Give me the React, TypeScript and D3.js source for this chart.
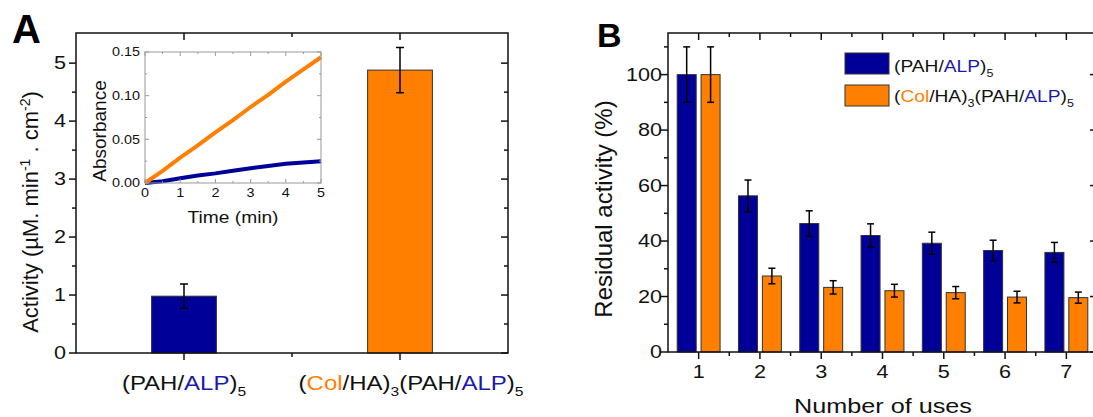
import React from 'react';
import * as d3 from 'd3';

const W = 1093;
const H = 417;
const SX = 1.2;
const FONT = '"Liberation Sans", Arial, Helvetica, sans-serif';
const BLUE = '#000099';
const ORANGE = '#ff8000';
const TXT_BLUE = '#1a1aaa';

// Panel A data
const activityCategories = [1, 2];
const activityValues = [0.98, 4.88];
const activityErrors = [0.21, 0.39];
const activityColors = [BLUE, ORANGE];
const activityTicks = [0, 1, 2, 3, 4, 5];
const activityMinor = [0.5, 1.5, 2.5, 3.5, 4.5];

// Inset data
const insetTime = [0, 0.5, 1, 1.5, 2, 2.5, 3, 3.5, 4, 4.5, 5];
const insetOrange = [0, 0.014, 0.029, 0.043, 0.058, 0.072, 0.087, 0.101, 0.116, 0.13, 0.144];
const insetBlue = [0, 0.002, 0.0055, 0.0085, 0.011, 0.014, 0.017, 0.0195, 0.022, 0.0235, 0.025];
const insetXTicks = [0, 1, 2, 3, 4, 5];
const insetYTicks = [0, 0.05, 0.1, 0.15];
const insetYLabels = ['0.00', '0.05', '0.10', '0.15'];

// Panel B data
const uses = [1, 2, 3, 4, 5, 6, 7];
const residualPAH = [100, 56.3, 46.3, 42, 39.2, 36.6, 35.9];
const residualPAHErr = [10, 5.7, 4.6, 4.2, 4, 3.7, 3.6];
const residualCol = [100, 27.4, 23.3, 22.1, 21.4, 19.8, 19.6];
const residualColErr = [10, 2.8, 2.4, 2.3, 2.2, 2.1, 2.0];
const residualTicks = [0, 20, 40, 60, 80, 100];
const residualMinor = [10, 30, 50, 70, 90, 110];

function HText(props: any) {
  const { x, y, anchor = 'start', size, fill = '#111', weight = 'normal', sx = SX, children, dy } = props;
  return (
    <text
      transform={`translate(${x},${y}) scale(${sx},1)`}
      textAnchor={anchor}
      fontSize={size}
      fontFamily={FONT}
      fill={fill}
      fontWeight={weight}
      dy={dy}
    >
      {children}
    </text>
  );
}

function PahAlp({ size }: { size: number }) {
  return (
    <>
      <tspan>(PAH/</tspan>
      <tspan fill={TXT_BLUE}>ALP</tspan>
      <tspan>)</tspan>
      <tspan dy={size * 0.3} fontSize={size * 0.65}>5</tspan>
    </>
  );
}

function ColHa({ size }: { size: number }) {
  return (
    <>
      <tspan>(</tspan>
      <tspan fill={ORANGE}>Col</tspan>
      <tspan>/HA)</tspan>
      <tspan dy={size * 0.3} fontSize={size * 0.65}>3</tspan>
      <tspan dy={-size * 0.3}>(PAH/</tspan>
      <tspan fill={TXT_BLUE}>ALP</tspan>
      <tspan>)</tspan>
      <tspan dy={size * 0.3} fontSize={size * 0.65}>5</tspan>
    </>
  );
}

export default function App() {
  // Panel A scales
  const xA = d3.scaleLinear().domain([0.5, 2.5]).range([76, 508]);
  const yA = d3.scaleLinear().domain([0, 5.52]).range([353, 33]);
  const barHalfA = 0.15;

  // Inset scales
  const xI = d3.scaleLinear().domain([0, 5]).range([145, 321]);
  const yI = d3.scaleLinear().domain([0, 0.15]).range([183, 52]);
  const lineI = d3
    .line<number>()
    .x((_, i) => xI(insetTime[i]))
    .y((d) => yI(d));

  // Panel B scales
  const xB = d3.scaleLinear().domain([0.5, 7.5]).range([668, 1097]);
  const yB = d3.scaleLinear().domain([0, 115]).range([352, 33]);
  const offB = 0.195;
  const halfB = 0.155;

  const MAJ = 7;
  const MIN = 4;
  const axisStroke = '#111';
  const aw = 1.5;

  const [a0, a1] = xA.range();
  const [ab, at] = yA.range();
  const [b0, b1] = xB.range();
  const [bb, bt] = yB.range();
  const [i0, i1] = xI.range();
  const [ib, it] = yI.range();

  const insetXMinor = d3.range(0.5, 5, 1);
  const insetYMinor = [0.025, 0.075, 0.125];

  return (
    <svg width={W} height={H} style={{ position: 'absolute', left: 0, top: 0, background: '#fff' }}>
      <rect x={0} y={0} width={W} height={H} fill="#fff" />

      {/* ---------- Panel A ---------- */}
      <text x={12} y={43} fontSize={40} fontWeight="bold" fontFamily={FONT} fill="#000">A</text>

      {/* bars */}
      {activityCategories.map((c, i) => (
        <rect
          key={'ab' + i}
          x={xA(c - barHalfA)}
          y={yA(activityValues[i])}
          width={xA(c + barHalfA) - xA(c - barHalfA)}
          height={yA(0) - yA(activityValues[i])}
          fill={activityColors[i]}
          stroke="#333"
          strokeWidth={1}
        />
      ))}
      {/* error bars */}
      {activityCategories.map((c, i) => {
        const xc = xA(c);
        const yt = yA(activityValues[i] + activityErrors[i]);
        const ybm = yA(activityValues[i] - activityErrors[i]);
        return (
          <g key={'ae' + i} stroke="#000" strokeWidth={1.5}>
            <line x1={xc} x2={xc} y1={yt} y2={ybm} />
            <line x1={xc - 4} x2={xc + 4} y1={yt} y2={yt} />
            <line x1={xc - 4} x2={xc + 4} y1={ybm} y2={ybm} />
          </g>
        );
      })}

      {/* frame */}
      <rect x={a0} y={at} width={a1 - a0} height={ab - at} fill="none" stroke={axisStroke} strokeWidth={aw} />
      {/* y ticks */}
      {activityTicks.map((t) => (
        <g key={'ayt' + t}>
          <line x1={a0 - MAJ} x2={a0} y1={yA(t)} y2={yA(t)} stroke={axisStroke} strokeWidth={aw} />
          <line x1={a1 - MAJ} x2={a1} y1={yA(t)} y2={yA(t)} stroke={axisStroke} strokeWidth={aw} />
          <HText x={a0 - 10} y={yA(t)} dy="0.35em" anchor="end" size={18}>{t}</HText>
        </g>
      ))}
      {activityMinor.map((t) => (
        <g key={'aym' + t}>
          <line x1={a0 - MIN} x2={a0} y1={yA(t)} y2={yA(t)} stroke={axisStroke} strokeWidth={aw} />
          <line x1={a1 - MIN} x2={a1} y1={yA(t)} y2={yA(t)} stroke={axisStroke} strokeWidth={aw} />
        </g>
      ))}
      {/* x ticks */}
      {activityCategories.map((c) => (
        <g key={'axt' + c}>
          <line x1={xA(c)} x2={xA(c)} y1={ab} y2={ab + MAJ} stroke={axisStroke} strokeWidth={aw} />
          <line x1={xA(c)} x2={xA(c)} y1={at} y2={at + MAJ} stroke={axisStroke} strokeWidth={aw} />
        </g>
      ))}
      <line x1={xA(1.5)} x2={xA(1.5)} y1={ab} y2={ab + MIN} stroke={axisStroke} strokeWidth={aw} />
      <line x1={xA(1.5)} x2={xA(1.5)} y1={at} y2={at + MIN} stroke={axisStroke} strokeWidth={aw} />

      {/* category labels */}
      <HText x={xA(1)} y={390} anchor="middle" size={20}>
        <PahAlp size={20} />
      </HText>
      <HText x={xA(2) + 11} y={390} anchor="middle" size={20}>
        <ColHa size={20} />
      </HText>

      {/* y title */}
      <text
        transform={`translate(38,212) rotate(-90)`}
        textAnchor="middle"
        fontSize={22}
        fontFamily={FONT}
        fill="#111"
      >
        <tspan>Activity (µM. min</tspan>
        <tspan dy={-8} fontSize={14}>-1</tspan>
        <tspan dy={8}> . cm</tspan>
        <tspan dy={-8} fontSize={14}>-2</tspan>
        <tspan dy={8}>)</tspan>
      </text>

      {/* ---------- Inset ---------- */}
      <path d={lineI(insetBlue) || ''} fill="none" stroke={BLUE} strokeWidth={4} />
      <path d={lineI(insetOrange) || ''} fill="none" stroke={ORANGE} strokeWidth={4} />
      <rect x={i0} y={it} width={i1 - i0} height={ib - it} fill="none" stroke="#999" strokeWidth={1} />
      {insetXTicks.map((t) => (
        <g key={'ixt' + t}>
          <line x1={xI(t)} x2={xI(t)} y1={ib} y2={ib - 4} stroke="#999" />
          <line x1={xI(t)} x2={xI(t)} y1={it} y2={it + 4} stroke="#999" />
          <HText x={xI(t)} y={197} anchor="middle" size={12}>{t}</HText>
        </g>
      ))}
      {insetXMinor.map((t) => (
        <g key={'ixm' + t}>
          <line x1={xI(t)} x2={xI(t)} y1={ib} y2={ib - 2} stroke="#999" />
          <line x1={xI(t)} x2={xI(t)} y1={it} y2={it + 2} stroke="#999" />
        </g>
      ))}
      {insetYTicks.map((t, i) => (
        <g key={'iyt' + t}>
          <line x1={i0} x2={i0 + 4} y1={yI(t)} y2={yI(t)} stroke="#999" />
          <line x1={i1} x2={i1 - 4} y1={yI(t)} y2={yI(t)} stroke="#999" />
          <HText x={140} y={yI(t)} dy="0.35em" anchor="end" size={12}>{insetYLabels[i]}</HText>
        </g>
      ))}
      {insetYMinor.map((t) => (
        <g key={'iym' + t}>
          <line x1={i0} x2={i0 + 2} y1={yI(t)} y2={yI(t)} stroke="#999" />
          <line x1={i1} x2={i1 - 2} y1={yI(t)} y2={yI(t)} stroke="#999" />
        </g>
      ))}
      <HText x={233} y={223} anchor="middle" size={16}>Time (min)</HText>
      <text
        transform={`translate(106,131) rotate(-90)`}
        textAnchor="middle"
        fontSize={19}
        fontFamily={FONT}
        fill="#111"
      >
        Absorbance
      </text>

      {/* ---------- Panel B ---------- */}
      <text x={597} y={47} fontSize={34} fontWeight="bold" fontFamily={FONT} fill="#000">B</text>

      {uses.map((u, i) => (
        <g key={'bb' + u}>
          <rect
            x={xB(u - offB - halfB)}
            y={yB(residualPAH[i])}
            width={xB(u - offB + halfB) - xB(u - offB - halfB)}
            height={yB(0) - yB(residualPAH[i])}
            fill={BLUE}
            stroke="#333"
            strokeWidth={1}
          />
          <rect
            x={xB(u + offB - halfB)}
            y={yB(residualCol[i])}
            width={xB(u + offB + halfB) - xB(u + offB - halfB)}
            height={yB(0) - yB(residualCol[i])}
            fill={ORANGE}
            stroke="#333"
            strokeWidth={1}
          />
        </g>
      ))}
      {uses.map((u, i) => {
        const series = [
          { x: xB(u - offB), v: residualPAH[i], e: residualPAHErr[i] },
          { x: xB(u + offB), v: residualCol[i], e: residualColErr[i] },
        ];
        return (
          <g key={'be' + u} stroke="#000" strokeWidth={1.5}>
            {series.map((s, j) => (
              <g key={j}>
                <line x1={s.x} x2={s.x} y1={yB(s.v + s.e)} y2={yB(s.v - s.e)} />
                <line x1={s.x - 3.5} x2={s.x + 3.5} y1={yB(s.v + s.e)} y2={yB(s.v + s.e)} />
                <line x1={s.x - 3.5} x2={s.x + 3.5} y1={yB(s.v - s.e)} y2={yB(s.v - s.e)} />
              </g>
            ))}
          </g>
        );
      })}

      <rect x={b0} y={bt} width={b1 - b0} height={bb - bt} fill="none" stroke={axisStroke} strokeWidth={aw} />
      {residualTicks.map((t) => (
        <g key={'byt' + t}>
          <line x1={b0 - MAJ} x2={b0} y1={yB(t)} y2={yB(t)} stroke={axisStroke} strokeWidth={aw} />
          <line x1={b1 - MAJ} x2={b1} y1={yB(t)} y2={yB(t)} stroke={axisStroke} strokeWidth={aw} />
          <HText x={662} y={yB(t)} dy="0.35em" anchor="end" size={18}>{t}</HText>
        </g>
      ))}
      {residualMinor.map((t) => (
        <g key={'bym' + t}>
          <line x1={b0 - MIN} x2={b0} y1={yB(t)} y2={yB(t)} stroke={axisStroke} strokeWidth={aw} />
          <line x1={b1 - MIN} x2={b1} y1={yB(t)} y2={yB(t)} stroke={axisStroke} strokeWidth={aw} />
        </g>
      ))}
      {uses.map((u) => (
        <g key={'bxt' + u}>
          <line x1={xB(u)} x2={xB(u)} y1={bb} y2={bb + MAJ} stroke={axisStroke} strokeWidth={aw} />
          <line x1={xB(u)} x2={xB(u)} y1={bt} y2={bt + MAJ} stroke={axisStroke} strokeWidth={aw} />
          <line x1={xB(u + 0.5)} x2={xB(u + 0.5)} y1={bb} y2={bb + MIN} stroke={axisStroke} strokeWidth={aw} />
          <line x1={xB(u + 0.5)} x2={xB(u + 0.5)} y1={bt} y2={bt + MIN} stroke={axisStroke} strokeWidth={aw} />
          <HText x={xB(u)} y={378} anchor="middle" size={18}>{u}</HText>
        </g>
      ))}
      <HText x={883} y={413} anchor="middle" size={21}>Number of uses</HText>
      <text
        transform={`translate(612,209) rotate(-90)`}
        textAnchor="middle"
        fontSize={24}
        fontFamily={FONT}
        fill="#111"
      >
        Residual activity (%)
      </text>

      {/* legend */}
      <rect x={845} y={53} width={44} height={21} fill={BLUE} stroke="#333" strokeWidth={1} />
      <rect x={845} y={85} width={44} height={21} fill={ORANGE} stroke="#333" strokeWidth={1} />
      <HText x={894} y={72} size={16}>
        <PahAlp size={16} />
      </HText>
      <HText x={894} y={102} size={16}>
        <ColHa size={16} />
      </HText>
    </svg>
  );
}
